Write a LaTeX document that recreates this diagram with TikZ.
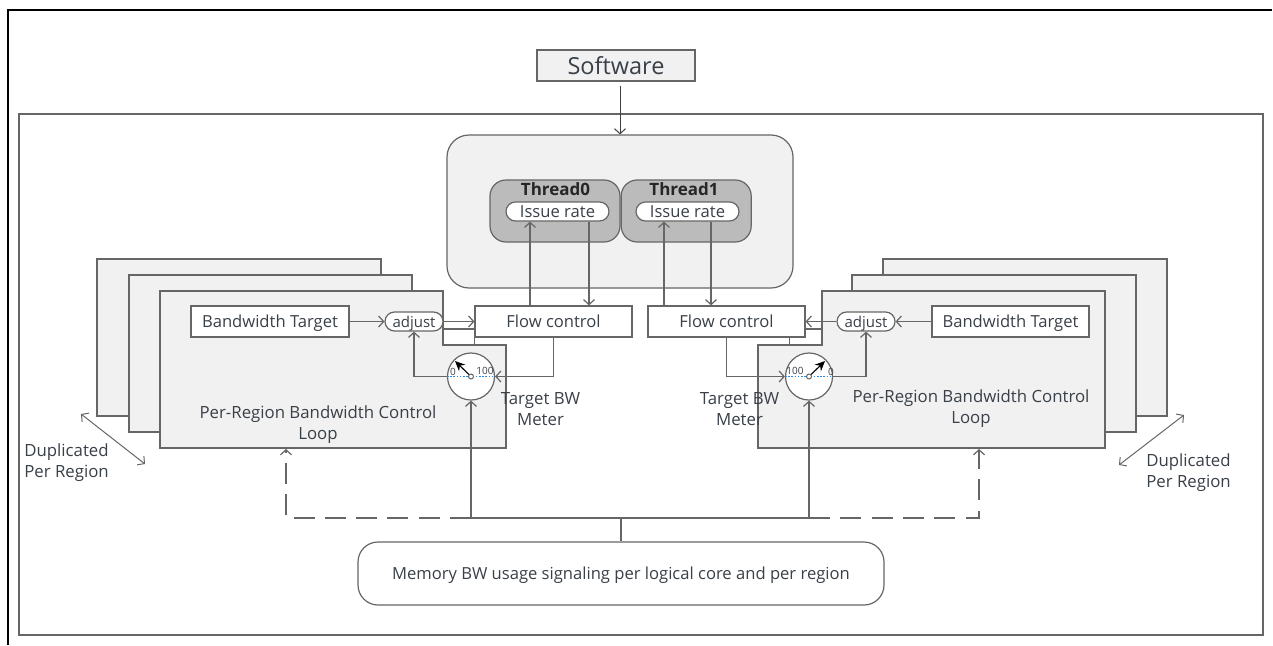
\documentclass[tikz,border=0pt]{standalone}
\usepackage{fontspec}
\setmainfont{Open Sans}
\usetikzlibrary{positioning, arrows.meta, calc}
\definecolor{linegray}{HTML}{666666}
\definecolor{panelgray}{HTML}{F1F1F1}
\definecolor{threadgray}{HTML}{BBBBBB}
\definecolor{textgray}{HTML}{3A4048}
\definecolor{dialblue}{HTML}{2F8BE0}
\tikzset{
	main box/.style={rectangle, draw=linegray, line width=1.2pt, fill=white, inner sep=0pt, text=textgray, text height=15.4pt, text depth=3pt, font=\fontsize{16.6}{18}\selectfont},
	round box/.style={main box, rounded corners=#1},
	stack box/.style={draw=linegray, line width=1.3pt, fill=panelgray},
	thread label/.style={inner sep=0pt, text=black!85, font=\fontsize{17}{18}\selectfont\bfseries},
	meter node/.style={circle, draw=linegray, line width=1.2pt, fill=white, minimum size=47pt, inner sep=0pt},
	hub node/.style={circle, draw=linegray, line width=1pt, fill=white, minimum size=5pt, inner sep=0pt},
	label node/.style={align=center, inner sep=0pt, text=textgray, font=\fontsize{16.8}{21}\selectfont},
	dial node/.style={inner sep=0pt, text=textgray, font=\fontsize{10}{10}\selectfont},
	link/.style={draw=linegray, line width=1.2pt},
	dial line/.style={dialblue, line width=1.3pt, dash pattern=on 1.6pt off 1.6pt},
	needle/.style={-{Stealth[length=10pt,width=9pt]}, line width=1.1pt},
	dash link/.style={link, dash pattern=on 21pt off 10.3pt},
}
\begin{document}
\begin{tikzpicture}[x=1pt, y=-1pt, >={Straight Barb[length=5pt,width=11pt]}]
	\useasboundingbox (0,0) rectangle (1273,645);
	% Frames
	\fill[white] (0,0) rectangle (1273,645);
	\draw[black, line width=2pt] (8,645) -- (8,10) -- (1272,10);
	\draw[linegray, line width=1.3pt] (19,114) rectangle (1263,635);
	% Stacks
	\draw[stack box] (97,259) rectangle (381,416);
	\draw[stack box] (129,275) rectangle (412,432);
	\draw[stack box] (160,291) -- (443,291) -- (443,345) -- (506,345) -- (506,448) -- (160,448) -- cycle;
	\draw[stack box] (883,259) rectangle (1167,416);
	\draw[stack box] (852,275) rectangle (1136,432);
	\draw[stack box] (1105,291) -- (822,291) -- (822,345) -- (758,345) -- (758,448) -- (1105,448) -- cycle;
	% Threads
	\node[round box=22pt, fill=panelgray, minimum width=346pt, minimum height=153pt] (core) at (620,211.5) {};
	\node[round box=16pt, fill=threadgray, minimum width=130pt, minimum height=62pt] (thread0) at (555,211) {};
	\node[round box=16pt, fill=threadgray, minimum width=130pt, minimum height=62pt, right = 0pt of thread0] (thread1) {};
	\node[thread label] (name0) at (555.5,189) {Thread0};
	\node[thread label] (name1) at (684,189) {Thread1};
	\node[round box=9.5pt, minimum width=103pt, minimum height=19pt] (issue0) at (557.5,211.5) {Issue rate};
	\node[round box=9.5pt, minimum width=103pt, minimum height=19pt] (issue1) at (687.5,211.5) {Issue rate};
	% Boxes
	\node[main box, fill=panelgray, minimum width=158pt, minimum height=31pt, text height=18pt, text depth=1pt, font=\fontsize{23.5}{24}\selectfont] (software) at (616,65.5) {Software};
	\node[main box, minimum width=157pt, minimum height=31pt] (flow0) at (553.5,321.5) {Flow control};
	\node[main box, minimum width=157pt, minimum height=31pt] (flow1) at (726.5,321.5) {Flow control};
	\node[main box, minimum width=158pt, minimum height=31pt] (target0) at (270,321.5) {Bandwidth Target};
	\node[main box, minimum width=157pt, minimum height=31pt] (target1) at (1010.5,321.5) {Bandwidth Target};
	\node[round box=9.5pt, minimum width=58pt, minimum height=19pt, font=\fontsize{15}{18}\selectfont] (adjust0) at (414,321.5) {adjust};
	\node[round box=9.5pt, minimum width=58pt, minimum height=19pt, font=\fontsize{15}{18}\selectfont] (adjust1) at (866,321.5) {adjust};
	\node[round box=20pt, minimum width=526pt, minimum height=63pt] (memory) at (621,573.5) {Memory BW usage signaling per logical core and per region};
	% Meters
	\node[meter node] (meter0) at (471,376.5) {};
	\node[meter node] (meter1) at (809,376.5) {};
	\draw[dial line] (meter0.west) -- (meter0.east);
	\draw[dial line] (meter1.west) -- (meter1.east);
	\node[dial node] (zero0) at (453,372) {0};
	\node[dial node] (full0) at (485,371) {100};
	\node[dial node] (full1) at (795,371) {100};
	\node[dial node] (zero1) at (831,372) {0};
	\node[hub node] (hub0) at (meter0.center) {};
	\node[hub node] (hub1) at (meter1.center) {};
	\coordinate (tip0) at (455,361);
	\coordinate (tip1) at (825,361);
	\draw[needle] (hub0) -- (tip0);
	\draw[needle] (hub1) -- (tip1);
	% Paths
	\coordinate (junction) at (memory.north |- 0,518);
	\coordinate (bend0) at (286,518);
	\coordinate (bend1) at (979,518);
	\coordinate (loop0) at (286,449);
	\coordinate (loop1) at (979,449);
	\draw[link, ->, line width=1pt, black!75] ([xshift=4pt,yshift=-4pt]software.south) -- (core.north);
	\draw[link, ->] ([xshift=-23.5pt]flow0.north) -- ([xshift=-27.5pt]issue0.south);
	\draw[link, ->] ([xshift=31.5pt]issue0.south) -- ([xshift=35.5pt]flow0.north);
	\draw[link, ->] ([xshift=-62.5pt]flow1.north) -- ([xshift=-23.5pt]issue1.south);
	\draw[link, ->] ([xshift=23.5pt]issue1.south) -- ([xshift=-15.5pt]flow1.north);
	\draw[link, ->] (target0) -- (adjust0);
	\draw[link, ->] (adjust0) -- (flow0);
	\draw[link, ->] (target1) -- (adjust1);
	\draw[link, ->] (adjust1) -- (flow1);
	\draw[link] ([yshift=-7.5pt]adjust0.east) -- ([yshift=-7.5pt]flow0.west);
	\draw[link] (flow0.south west) -- ++(0,8);
	\draw[link] ([yshift=-7.5pt]flow1.east) -- ++(17,0);
	\draw[link] ([xshift=-16pt]flow1.south east) -- ++(0,8);
	\draw[link, ->] (flow0.south) |- (meter0.east);
	\draw[link, ->] (meter0.west) -| (adjust0.south);
	\draw[link, ->] (flow1.south) |- (meter1.west);
	\draw[link, ->] (meter1.east) -| (adjust1.south);
	\draw[link] (memory.north) -- (junction);
	\draw[link] (meter0.south |- junction) -- (meter1.south |- junction);
	\draw[link, ->] (meter0.south |- junction) -- (meter0.south);
	\draw[link, ->] (meter1.south |- junction) -- (meter1.south);
	\draw[dash link, ->] (meter0.south |- junction) -- (bend0) -- (loop0);
	\draw[dash link, ->] (meter1.south |- junction) -- (bend1) -- (loop1);
	\draw[link, <->, line width=1pt] (81,414) -- (145,464);
	\draw[link, <->, line width=1pt] (1184,415) -- (1119,465);
	% Labels
	\node[label node] (meterlabel0) at (540.5,409.5) {Target BW\\Meter};
	\node[label node] (meterlabel1) at (739.5,409.5) {Target BW\\Meter};
	\node[label node] (looplabel0) at (318,424.5) {Per-Region Bandwidth Control\\Loop};
	\node[label node] (looplabel1) at (971,409) {Per-Region Bandwidth Control\\Loop};
	\node[label node] (duplabel0) at (66.5,462.5) {Duplicated\\Per Region};
	\node[label node] (duplabel1) at (1188.5,472.5) {Duplicated\\Per Region};
\end{tikzpicture}
\end{document}
